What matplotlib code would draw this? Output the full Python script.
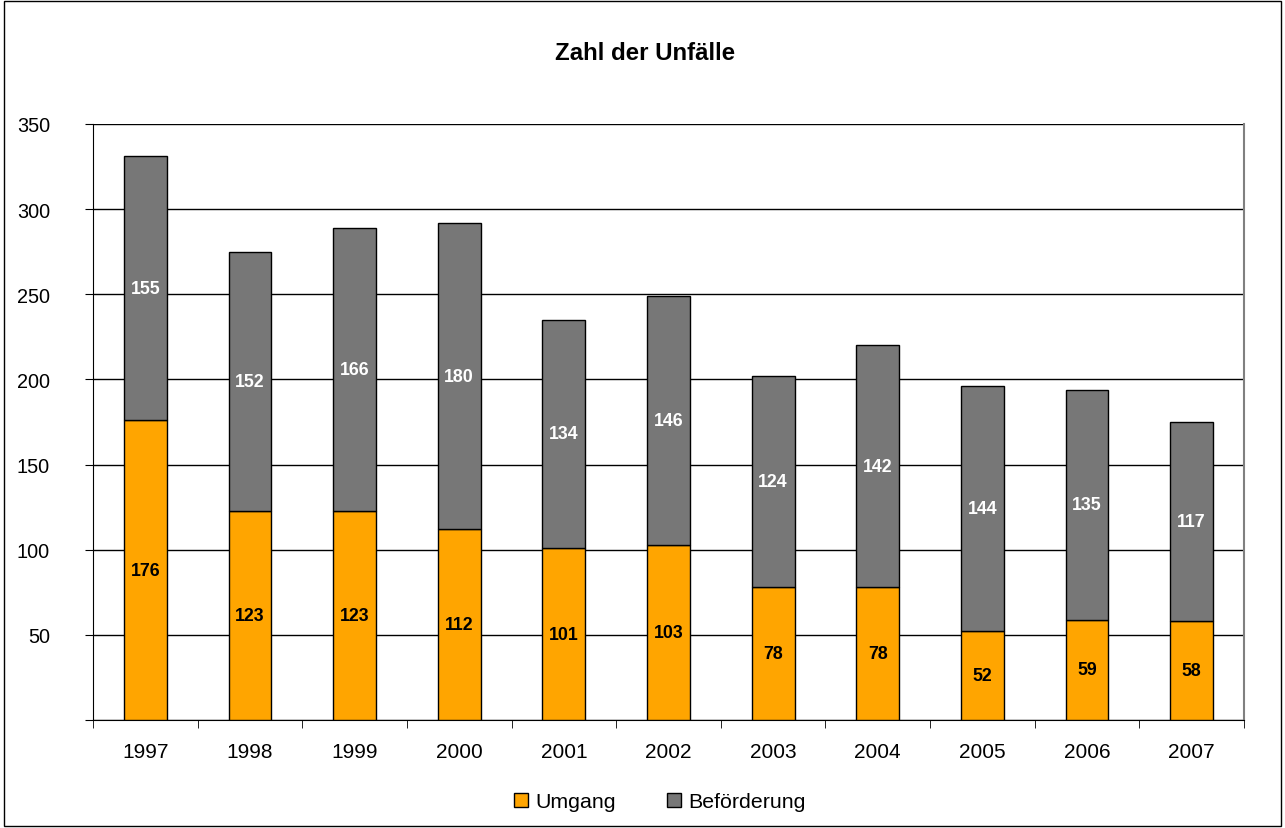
import matplotlib.pyplot as plt
import numpy as np
from matplotlib.patches import Rectangle

# Daten
jahre = ["1997", "1998", "1999", "2000", "2001", "2002", "2003", "2004", "2005", "2006", "2007"]
umgang = [176, 123, 123, 112, 101, 103, 78, 78, 52, 59, 58]
befoerderung = [155, 152, 166, 180, 134, 146, 124, 142, 144, 135, 117]

plt.rcParams['font.family'] = ['Liberation Sans', 'DejaVu Sans']

fig = plt.figure(figsize=(12.85, 8.29), dpi=100)
ax = fig.add_axes([93 / 1285, 1 - 721 / 829, (1244 - 93) / 1285, (721 - 125) / 829])

x = np.arange(len(jahre))
breite = 0.41
b1 = ax.bar(x, umgang, breite, color="#FFA500", edgecolor="black", linewidth=1, label="Umgang", zorder=3)
b2 = ax.bar(x, befoerderung, breite, bottom=umgang, color="#777777", edgecolor="black", linewidth=1,
            label="Beförderung", zorder=3)

# Beschriftungen
for i in range(len(jahre)):
    ax.text(x[i], umgang[i] / 2, str(umgang[i]), ha="center", va="center",
            fontsize=12.8, fontweight="bold", color="black", zorder=4)
    ax.text(x[i], umgang[i] + befoerderung[i] / 2, str(befoerderung[i]), ha="center", va="center",
            fontsize=12.8, fontweight="bold", color="white", zorder=4)

ax.set_xlim(-0.5, len(jahre) - 0.5)
ax.set_ylim(0, 350)
ax.set_yticks(range(0, 351, 50))
ax.set_yticklabels([""] + [str(v) for v in range(50, 351, 50)])
ax.yaxis.grid(True, color="black", linewidth=1, zorder=0)
ax.set_axisbelow(True)

ax.set_xticks(x)
ax.set_xticklabels(jahre)
ax.set_xticks(np.arange(-0.5, len(jahre), 1), minor=True)
ax.tick_params(axis="x", which="major", length=0, pad=16, labelsize=15)
ax.tick_params(axis="x", which="minor", length=6, direction="out", color="black")
ax.tick_params(axis="y", length=6, direction="out", pad=25, labelsize=14.3)

ax.spines["top"].set_visible(False)
ax.spines["right"].set_color("#808080")
ax.spines["right"].set_linewidth(1.5)
ax.spines["left"].set_color("black")
ax.spines["bottom"].set_color("black")

fig.text(0.502, 1 - 53 / 829, "Zahl der Unfälle", ha="center", va="center", fontsize=17.3, fontweight="bold")

fig.legend(handles=[b1, b2], loc="center", bbox_to_anchor=(660 / 1285, 1 - 803 / 829), ncol=2, frameon=False,
           fontsize=15.4, handlelength=0.65, handleheight=0.65, handletextpad=0.33, columnspacing=2.4)

fig.patches.append(Rectangle((0.003, 0.002), 0.994, 0.995, transform=fig.transFigure, fill=False,
                             edgecolor="black", linewidth=1))

fig.savefig("out.png", dpi=100)
